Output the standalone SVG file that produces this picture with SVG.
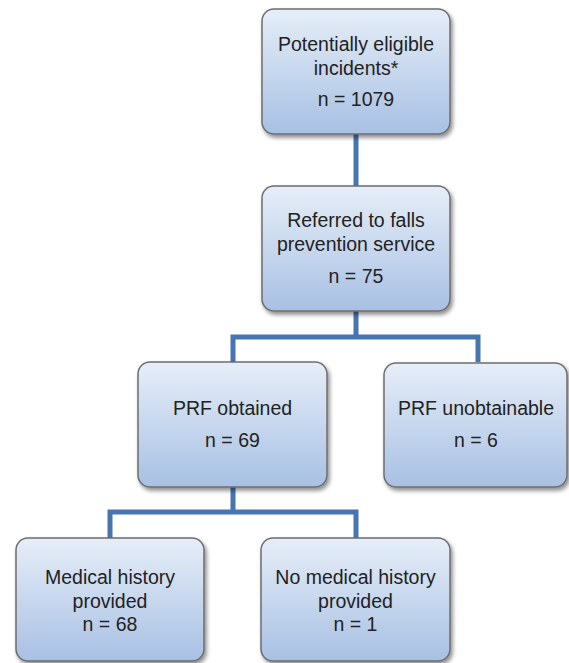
<svg xmlns="http://www.w3.org/2000/svg" width="569" height="663" viewBox="0 0 569 663">
<defs>
<linearGradient id="g" x1="0" y1="0" x2="0" y2="1">
<stop offset="0" stop-color="#e6eef8"/>
<stop offset="1" stop-color="#a8c0e3"/>
</linearGradient>
<filter id="sh" x="-10%" y="-10%" width="125%" height="125%">
<feGaussianBlur in="SourceAlpha" stdDeviation="2"/>
<feOffset dx="2" dy="3" result="b"/>
<feComponentTransfer><feFuncA type="linear" slope="0.45"/></feComponentTransfer>
<feMerge><feMergeNode/><feMergeNode in="SourceGraphic"/></feMerge>
</filter>
</defs>
<style>
.box{fill:url(#g);stroke:#6d6d6d;stroke-width:1.5;filter:url(#sh)}
.t{font-family:"Liberation Sans",Arial,sans-serif;font-size:19.5px;fill:#222;text-anchor:middle}
.c{fill:none;stroke:#4775b2;stroke-width:5}
</style>
<rect width="569" height="663" fill="#fff"/>
<g id="connectors">
<path class="c" d="M356 134V186"/>
<path class="c" d="M356 311V337M233 362V337H478V362"/>
<path class="c" d="M233 487V512M110 538V512H356V538"/>
</g>
<g id="n1">
<rect class="box" x="262" y="9" width="188" height="125" rx="12"/>
<text class="t" x="356" y="51">Potentially eligible</text>
<text class="t" x="356" y="75">incidents*</text>
<text class="t" x="356" y="106">n = 1079</text>
</g>
<g id="n2">
<rect class="box" x="262" y="186" width="188" height="125" rx="12"/>
<text class="t" x="356" y="227">Referred to falls</text>
<text class="t" x="356" y="251">prevention service</text>
<text class="t" x="356" y="283">n = 75</text>
</g>
<g id="n3">
<rect class="box" x="138" y="362" width="189" height="125" rx="12"/>
<text class="t" x="232.5" y="415">PRF obtained</text>
<text class="t" x="232.5" y="447">n = 69</text>
</g>
<g id="n4">
<rect class="box" x="384" y="363" width="183" height="124" rx="12"/>
<text class="t" x="476" y="415">PRF unobtainable</text>
<text class="t" x="476" y="447">n = 6</text>
</g>
<g id="n5">
<rect class="box" x="16" y="538" width="188" height="123" rx="12"/>
<text class="t" x="110" y="584">Medical history</text>
<text class="t" x="110" y="608">provided</text>
<text class="t" x="110" y="631">n = 68</text>
</g>
<g id="n6">
<rect class="box" x="261" y="538" width="189" height="123" rx="12"/>
<text class="t" x="355.5" y="584">No medical history</text>
<text class="t" x="355.5" y="608">provided</text>
<text class="t" x="355.5" y="631">n = 1</text>
</g>
</svg>
